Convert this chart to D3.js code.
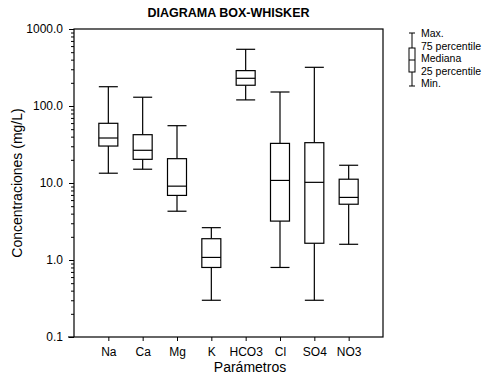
<!DOCTYPE html>
<html>
<head>
<meta charset="utf-8">
<script src="https://cdn.jsdelivr.net/npm/d3@7"></script>
<style>
  body { margin: 0; background: #fff; }
  text { font-family: "Liberation Sans", Arial, sans-serif; fill: #000; }
</style>
</head>
<body>
<div id="chart"></div>
<script>
// data (mg/L)
const parametros = ["Na", "Ca", "Mg", "K", "HCO3", "Cl", "SO4", "NO3"];
const minimos   = [13.4, 15.1, 4.3, 0.30, 120, 0.80, 0.30, 1.6];
const p25       = [30.2, 20.3, 6.9, 0.80, 186, 3.2, 1.65, 5.3];
const medianas  = [38.4, 26.6, 9.1, 1.08, 229, 10.8, 10.2, 6.5];
const p75       = [59.6, 42.4, 20.7, 1.89, 288, 32.7, 33.4, 11.2];
const maximos   = [178, 130, 55.5, 2.63, 545, 152, 318, 17.0];
const yTicks = [0.1, 1, 10, 100, 1000];
const legendLabels = ["Max.", "75 percentile", "Mediana", "25 percentile", "Min."];

const width = 497, height = 379;
const margin = {top: 29, right: 114, bottom: 42, left: 74};
const w = width - margin.left - margin.right;
const h = height - margin.top - margin.bottom;

const svg = d3.select("#chart").append("svg")
    .attr("width", width)
    .attr("height", height);

const g = svg.append("g")
    .attr("transform", `translate(${margin.left},${margin.top})`);

const x = d3.scaleLinear().domain([0, parametros.length + 1]).range([0, w]);
const y = d3.scaleLog().domain([0.1, 1000]).range([h, 0]);

const data = parametros.map((p, i) => ({
    name: p, min: minimos[i], q1: p25[i], med: medianas[i], q3: p75[i], max: maximos[i]
}));

// frame
g.append("rect")
    .attr("width", w).attr("height", h)
    .attr("fill", "none").attr("stroke", "#000").attr("stroke-width", 1.2);

// y axis: major + minor ticks
const minor = [];
for (let e = -1; e < 3; e++) for (let k = 2; k <= 9; k++) minor.push(k * Math.pow(10, e));

g.append("g")
    .call(d3.axisLeft(y).tickValues(minor).tickSize(3).tickFormat(""))
    .call(a => a.select(".domain").remove());

const yAxis = g.append("g")
    .call(d3.axisLeft(y).tickValues(yTicks).tickSize(5).tickPadding(6).tickFormat(d3.format(".1f")));
yAxis.select(".domain").remove();
yAxis.selectAll("text").attr("font-size", 12).style("font-family", '"Liberation Sans", Arial, sans-serif');

// x axis
const xAxis = g.append("g")
    .attr("transform", `translate(0,${h})`)
    .call(d3.axisBottom(x).tickValues(d3.range(1, parametros.length + 1))
        .tickSize(4).tickPadding(6).tickFormat(d => parametros[d - 1]));
xAxis.select(".domain").remove();
xAxis.selectAll("text").attr("font-size", 12).style("font-family", '"Liberation Sans", Arial, sans-serif');
g.selectAll(".tick line").attr("stroke", "#000");

// bottom axis line extends a little left of the frame
g.append("line")
    .attr("x1", -6).attr("x2", 0).attr("y1", h).attr("y2", h)
    .attr("stroke", "#000").attr("stroke-width", 1.2);

// boxes
const bw = 19;
const box = g.selectAll(".box")
    .data(data)
    .enter().append("g")
    .attr("class", "box")
    .attr("transform", (d, i) => `translate(${x(i + 1)},0)`);

box.append("line")
    .attr("y1", d => y(d.max)).attr("y2", d => y(d.q3))
    .attr("stroke", "#000").attr("stroke-width", 1.2);
box.append("line")
    .attr("y1", d => y(d.q1)).attr("y2", d => y(d.min))
    .attr("stroke", "#000").attr("stroke-width", 1.2);
box.append("rect")
    .attr("x", -bw / 2).attr("width", bw)
    .attr("y", d => y(d.q3)).attr("height", d => y(d.q1) - y(d.q3))
    .attr("fill", "#fff").attr("stroke", "#000").attr("stroke-width", 1.2);
["max", "med", "min"].forEach(k => {
    box.append("line")
        .attr("x1", -bw / 2).attr("x2", bw / 2)
        .attr("y1", d => y(d[k])).attr("y2", d => y(d[k]))
        .attr("stroke", "#000").attr("stroke-width", 1.2);
});

// title
svg.append("text")
    .attr("x", margin.left + w / 2).attr("y", 17)
    .attr("text-anchor", "middle")
    .attr("font-size", 12.5).attr("font-weight", "bold")
    .text("DIAGRAMA BOX-WHISKER");

// axis labels
svg.append("text")
    .attr("x", 250).attr("y", 372)
    .attr("text-anchor", "middle")
    .attr("font-size", 14)
    .text("Parámetros");

svg.append("text")
    .attr("transform", `translate(22,${margin.top + h / 2}) rotate(-90)`)
    .attr("text-anchor", "middle")
    .attr("font-size", 14)
    .text("Concentraciones (mg/L)");

// legend
const lg = svg.append("g").attr("transform", "translate(412,0)");
const ly = [33, 48, 60, 72, 86];
lg.append("line").attr("y1", ly[0]).attr("y2", ly[4]).attr("stroke", "#000");
lg.append("rect").attr("x", -3).attr("width", 6).attr("y", ly[1]).attr("height", ly[3] - ly[1])
    .attr("fill", "#fff").attr("stroke", "#000");
[0, 2, 4].forEach(i => {
    lg.append("line").attr("x1", -3).attr("x2", 3).attr("y1", ly[i]).attr("y2", ly[i]).attr("stroke", "#000");
});
lg.selectAll(".lab")
    .data(legendLabels)
    .enter().append("text")
    .attr("x", 9)
    .attr("y", (d, i) => 37 + i * 12.6)
    .attr("font-size", 10.5)
    .text(d => d);
</script>
</body>
</html>
